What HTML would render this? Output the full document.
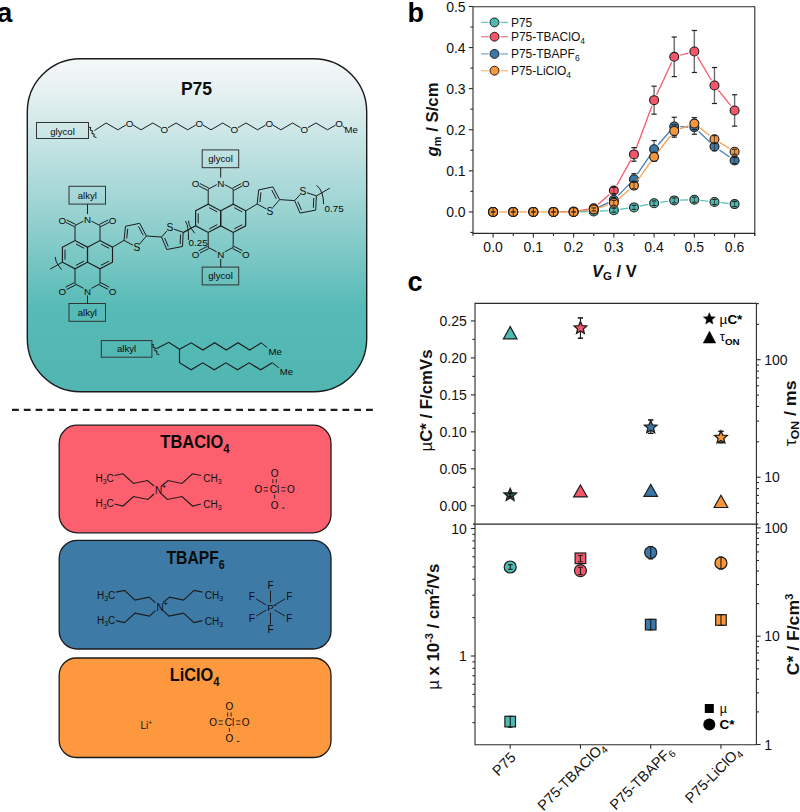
<!DOCTYPE html><html><head><meta charset="utf-8"><style>html,body{margin:0;padding:0;background:#fff;overflow:hidden;}svg{display:block;}</style></head><body><svg width="800" height="812" viewBox="0 0 800 812" font-family='"Liberation Sans", sans-serif'>
<defs>
<linearGradient id="tg" x1="0" y1="0" x2="0" y2="1">
<stop offset="0" stop-color="#f5f8f9"/>
<stop offset="0.1" stop-color="#e6f0f1"/>
<stop offset="0.42" stop-color="#a2d6d5"/>
<stop offset="0.75" stop-color="#56bab6"/>
<stop offset="1" stop-color="#51b6b2"/>
</linearGradient>
</defs>
<rect x="0" y="0" width="800" height="812" fill="#ffffff"/>
<text x="-2.90" y="21.80" font-size="27.5" text-anchor="start" font-weight="bold" fill="#000" >a</text>
<text x="407.50" y="22.30" font-size="27" text-anchor="start" font-weight="bold" fill="#000" >b</text>
<text x="407.50" y="291.30" font-size="27" text-anchor="start" font-weight="bold" fill="#000" >c</text>
<rect x="27.3" y="58.7" width="339.4" height="333" rx="53" ry="53" fill="url(#tg)" stroke="#1a1a1a" stroke-width="1.4"/>
<text x="196.50" y="95.00" font-size="17.5" text-anchor="middle" font-weight="bold" fill="#0d0d0d" >P75</text>
<rect x="36.5" y="122.5" width="52" height="16" fill="none" stroke="#333" stroke-width="1"/>
<text x="62.50" y="134.60" font-size="9.6" text-anchor="middle" font-weight="normal" fill="#0a0a0a" >glycol</text>
<path d="M88.80,127.40 L90.80,127.30 L90.10,130.10 L92.50,130.70 L91.80,133.50 L94.30,134.00 L93.70,136.50 L96.50,137.60" stroke="#1c1c1c" stroke-width="1.0" fill="none" stroke-linejoin="round"/>
<line x1="94.50" y1="130.50" x2="106.15" y2="123.00" stroke="#1c1c1c" stroke-width="1.0" />
<line x1="106.15" y1="123.00" x2="117.80" y2="129.80" stroke="#1c1c1c" stroke-width="1.0" />
<line x1="117.80" y1="129.80" x2="125.82" y2="125.12" stroke="#1c1c1c" stroke-width="1.0" />
<line x1="133.08" y1="125.12" x2="141.10" y2="129.80" stroke="#1c1c1c" stroke-width="1.0" />
<line x1="141.10" y1="129.80" x2="152.75" y2="123.00" stroke="#1c1c1c" stroke-width="1.0" />
<line x1="152.75" y1="123.00" x2="160.77" y2="127.68" stroke="#1c1c1c" stroke-width="1.0" />
<line x1="168.03" y1="127.68" x2="176.05" y2="123.00" stroke="#1c1c1c" stroke-width="1.0" />
<line x1="176.05" y1="123.00" x2="187.70" y2="129.80" stroke="#1c1c1c" stroke-width="1.0" />
<line x1="187.70" y1="129.80" x2="195.72" y2="125.12" stroke="#1c1c1c" stroke-width="1.0" />
<line x1="202.98" y1="125.12" x2="211.00" y2="129.80" stroke="#1c1c1c" stroke-width="1.0" />
<line x1="211.00" y1="129.80" x2="222.65" y2="123.00" stroke="#1c1c1c" stroke-width="1.0" />
<line x1="222.65" y1="123.00" x2="230.67" y2="127.68" stroke="#1c1c1c" stroke-width="1.0" />
<line x1="237.93" y1="127.68" x2="245.95" y2="123.00" stroke="#1c1c1c" stroke-width="1.0" />
<line x1="245.95" y1="123.00" x2="257.60" y2="129.80" stroke="#1c1c1c" stroke-width="1.0" />
<line x1="257.60" y1="129.80" x2="265.62" y2="125.12" stroke="#1c1c1c" stroke-width="1.0" />
<line x1="272.88" y1="125.12" x2="280.90" y2="129.80" stroke="#1c1c1c" stroke-width="1.0" />
<line x1="280.90" y1="129.80" x2="292.55" y2="123.00" stroke="#1c1c1c" stroke-width="1.0" />
<line x1="292.55" y1="123.00" x2="300.57" y2="127.68" stroke="#1c1c1c" stroke-width="1.0" />
<line x1="307.83" y1="127.68" x2="315.85" y2="123.00" stroke="#1c1c1c" stroke-width="1.0" />
<line x1="315.85" y1="123.00" x2="327.50" y2="129.80" stroke="#1c1c1c" stroke-width="1.0" />
<line x1="327.50" y1="129.80" x2="335.52" y2="125.12" stroke="#1c1c1c" stroke-width="1.0" />
<text x="129.45" y="126.53" font-size="9.8" text-anchor="middle" font-weight="normal" fill="#0a0a0a" >O</text>
<text x="164.40" y="133.33" font-size="9.8" text-anchor="middle" font-weight="normal" fill="#0a0a0a" >O</text>
<text x="199.35" y="126.53" font-size="9.8" text-anchor="middle" font-weight="normal" fill="#0a0a0a" >O</text>
<text x="234.30" y="133.33" font-size="9.8" text-anchor="middle" font-weight="normal" fill="#0a0a0a" >O</text>
<text x="269.25" y="126.53" font-size="9.8" text-anchor="middle" font-weight="normal" fill="#0a0a0a" >O</text>
<text x="304.20" y="133.33" font-size="9.8" text-anchor="middle" font-weight="normal" fill="#0a0a0a" >O</text>
<text x="339.15" y="126.53" font-size="9.8" text-anchor="middle" font-weight="normal" fill="#0a0a0a" >O</text>
<line x1="342.30" y1="125.78" x2="345.50" y2="128.60" stroke="#1c1c1c" stroke-width="1.0" />
<text x="344.60" y="132.80" font-size="9.6" text-anchor="start" font-weight="normal" fill="#0a0a0a" >Me</text>
<line x1="83.52" y1="221.10" x2="75.00" y2="225.60" stroke="#1c1c1c" stroke-width="1.0" />
<line x1="91.48" y1="221.10" x2="100.00" y2="225.60" stroke="#1c1c1c" stroke-width="1.0" />
<line x1="75.00" y1="225.60" x2="75.00" y2="240.60" stroke="#1c1c1c" stroke-width="1.0" />
<line x1="100.00" y1="225.60" x2="100.00" y2="240.60" stroke="#1c1c1c" stroke-width="1.0" />
<line x1="74.41" y1="226.76" x2="65.65" y2="222.31" stroke="#1c1c1c" stroke-width="1.0" />
<line x1="75.59" y1="224.44" x2="66.82" y2="219.99" stroke="#1c1c1c" stroke-width="1.0" />
<line x1="99.41" y1="224.44" x2="108.08" y2="220.00" stroke="#1c1c1c" stroke-width="1.0" />
<line x1="100.59" y1="226.76" x2="109.26" y2="222.32" stroke="#1c1c1c" stroke-width="1.0" />
<text x="62.40" y="223.73" font-size="9.8" text-anchor="middle" font-weight="normal" fill="#0a0a0a" >O</text>
<text x="112.50" y="223.73" font-size="9.8" text-anchor="middle" font-weight="normal" fill="#0a0a0a" >O</text>
<text x="87.50" y="223.43" font-size="9.8" text-anchor="middle" font-weight="normal" fill="#0a0a0a" >N</text>
<path d="M62.40,247.20 L75.00,240.60 L87.50,247.20 L87.50,262.20 L75.00,268.80 L62.40,262.20 Z" stroke="#1c1c1c" stroke-width="1.15" fill="none" stroke-linejoin="miter" />
<path d="M87.50,247.20 L100.00,240.60 L112.50,247.20 L112.50,262.20 L100.00,268.80 L87.50,262.20 Z" stroke="#1c1c1c" stroke-width="1.15" fill="none" stroke-linejoin="miter" />
<line x1="65.00" y1="259.70" x2="65.00" y2="249.70" stroke="#1c1c1c" stroke-width="1.0" />
<line x1="76.00" y1="244.07" x2="84.08" y2="248.33" stroke="#1c1c1c" stroke-width="1.0" />
<line x1="84.08" y1="261.07" x2="76.00" y2="265.33" stroke="#1c1c1c" stroke-width="1.0" />
<line x1="101.00" y1="244.07" x2="109.08" y2="248.33" stroke="#1c1c1c" stroke-width="1.0" />
<line x1="109.08" y1="261.07" x2="101.00" y2="265.33" stroke="#1c1c1c" stroke-width="1.0" />
<line x1="75.00" y1="268.80" x2="75.00" y2="283.80" stroke="#1c1c1c" stroke-width="1.0" />
<line x1="100.00" y1="268.80" x2="100.00" y2="283.80" stroke="#1c1c1c" stroke-width="1.0" />
<line x1="83.52" y1="288.30" x2="75.00" y2="283.80" stroke="#1c1c1c" stroke-width="1.0" />
<line x1="91.48" y1="288.30" x2="100.00" y2="283.80" stroke="#1c1c1c" stroke-width="1.0" />
<line x1="75.59" y1="284.96" x2="66.82" y2="289.41" stroke="#1c1c1c" stroke-width="1.0" />
<line x1="74.41" y1="282.64" x2="65.65" y2="287.09" stroke="#1c1c1c" stroke-width="1.0" />
<line x1="100.59" y1="282.64" x2="109.26" y2="287.08" stroke="#1c1c1c" stroke-width="1.0" />
<line x1="99.41" y1="284.96" x2="108.08" y2="289.40" stroke="#1c1c1c" stroke-width="1.0" />
<text x="62.40" y="294.83" font-size="9.8" text-anchor="middle" font-weight="normal" fill="#0a0a0a" >O</text>
<text x="112.50" y="294.83" font-size="9.8" text-anchor="middle" font-weight="normal" fill="#0a0a0a" >O</text>
<text x="87.50" y="294.83" font-size="9.8" text-anchor="middle" font-weight="normal" fill="#0a0a0a" >N</text>
<rect x="69.00" y="186.30" width="36.5" height="17.8" fill="none" stroke="#333" stroke-width="1"/>
<rect x="69.00" y="303.50" width="36.5" height="17.8" fill="none" stroke="#333" stroke-width="1"/>
<text x="87.30" y="198.60" font-size="9.6" text-anchor="middle" font-weight="normal" fill="#0a0a0a" >alkyl</text>
<text x="87.30" y="315.80" font-size="9.6" text-anchor="middle" font-weight="normal" fill="#0a0a0a" >alkyl</text>
<line x1="87.50" y1="204.10" x2="87.50" y2="214.00" stroke="#1c1c1c" stroke-width="1.0" />
<line x1="87.50" y1="295.40" x2="87.50" y2="303.50" stroke="#1c1c1c" stroke-width="1.0" />
<line x1="62.40" y1="262.20" x2="50.00" y2="269.20" stroke="#1c1c1c" stroke-width="1.0" />
<path d="M55.30,257.00 q0.2,4.5 2.5,7.5 L61.50,269.60" stroke="#1c1c1c" stroke-width="1" fill="none"/>
<line x1="112.50" y1="247.20" x2="124.00" y2="240.40" stroke="#1c1c1c" stroke-width="1.0" />
<line x1="124.00" y1="240.40" x2="125.50" y2="226.30" stroke="#1c1c1c" stroke-width="1.0" />
<line x1="125.50" y1="226.30" x2="139.70" y2="223.30" stroke="#1c1c1c" stroke-width="1.0" />
<line x1="139.70" y1="223.30" x2="146.40" y2="236.00" stroke="#1c1c1c" stroke-width="1.0" />
<line x1="146.40" y1="236.00" x2="139.52" y2="244.10" stroke="#1c1c1c" stroke-width="1.0" />
<line x1="133.10" y1="245.31" x2="124.00" y2="240.40" stroke="#1c1c1c" stroke-width="1.0" />
<line x1="126.72" y1="238.48" x2="127.75" y2="228.75" stroke="#1c1c1c" stroke-width="1.0" />
<line x1="138.52" y1="226.41" x2="143.16" y2="235.22" stroke="#1c1c1c" stroke-width="1.0" />
<text x="136.80" y="250.97" font-size="10.2" text-anchor="middle" font-weight="normal" fill="#0a0a0a" >S</text>
<line x1="146.40" y1="236.00" x2="161.50" y2="237.00" stroke="#1c1c1c" stroke-width="1.0" />
<line x1="161.50" y1="237.00" x2="166.99" y2="230.92" stroke="#1c1c1c" stroke-width="1.0" />
<line x1="173.78" y1="229.14" x2="183.20" y2="232.30" stroke="#1c1c1c" stroke-width="1.0" />
<line x1="183.20" y1="232.30" x2="182.50" y2="246.50" stroke="#1c1c1c" stroke-width="1.0" />
<line x1="182.50" y1="246.50" x2="166.80" y2="249.50" stroke="#1c1c1c" stroke-width="1.0" />
<line x1="166.80" y1="249.50" x2="161.50" y2="237.00" stroke="#1c1c1c" stroke-width="1.0" />
<line x1="168.24" y1="246.50" x2="164.66" y2="238.05" stroke="#1c1c1c" stroke-width="1.0" />
<line x1="180.59" y1="234.37" x2="180.11" y2="244.18" stroke="#1c1c1c" stroke-width="1.0" />
<text x="169.80" y="231.47" font-size="10.2" text-anchor="middle" font-weight="normal" fill="#0a0a0a" >S</text>
<line x1="216.72" y1="184.70" x2="208.20" y2="189.20" stroke="#1c1c1c" stroke-width="1.0" />
<line x1="224.68" y1="184.70" x2="233.20" y2="189.20" stroke="#1c1c1c" stroke-width="1.0" />
<line x1="208.20" y1="189.20" x2="208.20" y2="204.20" stroke="#1c1c1c" stroke-width="1.0" />
<line x1="233.20" y1="189.20" x2="233.20" y2="204.20" stroke="#1c1c1c" stroke-width="1.0" />
<line x1="207.61" y1="190.36" x2="198.85" y2="185.91" stroke="#1c1c1c" stroke-width="1.0" />
<line x1="208.79" y1="188.04" x2="200.02" y2="183.59" stroke="#1c1c1c" stroke-width="1.0" />
<line x1="232.61" y1="188.04" x2="241.28" y2="183.60" stroke="#1c1c1c" stroke-width="1.0" />
<line x1="233.79" y1="190.36" x2="242.46" y2="185.92" stroke="#1c1c1c" stroke-width="1.0" />
<text x="195.60" y="187.33" font-size="9.8" text-anchor="middle" font-weight="normal" fill="#0a0a0a" >O</text>
<text x="245.70" y="187.33" font-size="9.8" text-anchor="middle" font-weight="normal" fill="#0a0a0a" >O</text>
<text x="220.70" y="187.03" font-size="9.8" text-anchor="middle" font-weight="normal" fill="#0a0a0a" >N</text>
<path d="M195.60,210.80 L208.20,204.20 L220.70,210.80 L220.70,225.80 L208.20,232.40 L195.60,225.80 Z" stroke="#1c1c1c" stroke-width="1.15" fill="none" stroke-linejoin="miter" />
<path d="M220.70,210.80 L233.20,204.20 L245.70,210.80 L245.70,225.80 L233.20,232.40 L220.70,225.80 Z" stroke="#1c1c1c" stroke-width="1.15" fill="none" stroke-linejoin="miter" />
<line x1="198.20" y1="223.30" x2="198.20" y2="213.30" stroke="#1c1c1c" stroke-width="1.0" />
<line x1="209.20" y1="207.67" x2="217.28" y2="211.93" stroke="#1c1c1c" stroke-width="1.0" />
<line x1="217.28" y1="224.67" x2="209.20" y2="228.93" stroke="#1c1c1c" stroke-width="1.0" />
<line x1="234.20" y1="207.67" x2="242.28" y2="211.93" stroke="#1c1c1c" stroke-width="1.0" />
<line x1="242.28" y1="224.67" x2="234.20" y2="228.93" stroke="#1c1c1c" stroke-width="1.0" />
<line x1="208.20" y1="232.40" x2="208.20" y2="247.40" stroke="#1c1c1c" stroke-width="1.0" />
<line x1="233.20" y1="232.40" x2="233.20" y2="247.40" stroke="#1c1c1c" stroke-width="1.0" />
<line x1="216.72" y1="251.90" x2="208.20" y2="247.40" stroke="#1c1c1c" stroke-width="1.0" />
<line x1="224.68" y1="251.90" x2="233.20" y2="247.40" stroke="#1c1c1c" stroke-width="1.0" />
<line x1="208.79" y1="248.56" x2="200.02" y2="253.01" stroke="#1c1c1c" stroke-width="1.0" />
<line x1="207.61" y1="246.24" x2="198.85" y2="250.69" stroke="#1c1c1c" stroke-width="1.0" />
<line x1="233.79" y1="246.24" x2="242.46" y2="250.68" stroke="#1c1c1c" stroke-width="1.0" />
<line x1="232.61" y1="248.56" x2="241.28" y2="253.00" stroke="#1c1c1c" stroke-width="1.0" />
<text x="195.60" y="258.43" font-size="9.8" text-anchor="middle" font-weight="normal" fill="#0a0a0a" >O</text>
<text x="245.70" y="258.43" font-size="9.8" text-anchor="middle" font-weight="normal" fill="#0a0a0a" >O</text>
<text x="220.70" y="258.43" font-size="9.8" text-anchor="middle" font-weight="normal" fill="#0a0a0a" >N</text>
<rect x="202.20" y="149.90" width="36.5" height="17.8" fill="none" stroke="#333" stroke-width="1"/>
<rect x="202.20" y="267.10" width="36.5" height="17.8" fill="none" stroke="#333" stroke-width="1"/>
<text x="220.50" y="162.20" font-size="9.6" text-anchor="middle" font-weight="normal" fill="#0a0a0a" >glycol</text>
<text x="220.50" y="279.40" font-size="9.6" text-anchor="middle" font-weight="normal" fill="#0a0a0a" >glycol</text>
<line x1="220.70" y1="167.70" x2="220.70" y2="177.60" stroke="#1c1c1c" stroke-width="1.0" />
<line x1="220.70" y1="259.00" x2="220.70" y2="267.10" stroke="#1c1c1c" stroke-width="1.0" />
<line x1="195.60" y1="225.80" x2="183.20" y2="232.80" stroke="#1c1c1c" stroke-width="1.0" />
<path d="M188.50,220.60 q0.2,4.5 2.5,7.5 L194.70,233.20" stroke="#1c1c1c" stroke-width="1" fill="none"/>
<line x1="245.70" y1="210.80" x2="257.20" y2="204.00" stroke="#1c1c1c" stroke-width="1.0" />
<line x1="257.20" y1="204.00" x2="258.70" y2="189.90" stroke="#1c1c1c" stroke-width="1.0" />
<line x1="258.70" y1="189.90" x2="272.90" y2="186.90" stroke="#1c1c1c" stroke-width="1.0" />
<line x1="272.90" y1="186.90" x2="279.60" y2="199.60" stroke="#1c1c1c" stroke-width="1.0" />
<line x1="279.60" y1="199.60" x2="272.72" y2="207.70" stroke="#1c1c1c" stroke-width="1.0" />
<line x1="266.30" y1="208.91" x2="257.20" y2="204.00" stroke="#1c1c1c" stroke-width="1.0" />
<line x1="259.92" y1="202.08" x2="260.95" y2="192.35" stroke="#1c1c1c" stroke-width="1.0" />
<line x1="271.72" y1="190.01" x2="276.36" y2="198.82" stroke="#1c1c1c" stroke-width="1.0" />
<text x="270.00" y="214.57" font-size="10.2" text-anchor="middle" font-weight="normal" fill="#0a0a0a" >S</text>
<line x1="279.60" y1="199.60" x2="294.70" y2="200.60" stroke="#1c1c1c" stroke-width="1.0" />
<line x1="294.70" y1="200.60" x2="300.19" y2="194.52" stroke="#1c1c1c" stroke-width="1.0" />
<line x1="306.98" y1="192.74" x2="316.40" y2="195.90" stroke="#1c1c1c" stroke-width="1.0" />
<line x1="316.40" y1="195.90" x2="315.70" y2="210.10" stroke="#1c1c1c" stroke-width="1.0" />
<line x1="315.70" y1="210.10" x2="300.00" y2="213.10" stroke="#1c1c1c" stroke-width="1.0" />
<line x1="300.00" y1="213.10" x2="294.70" y2="200.60" stroke="#1c1c1c" stroke-width="1.0" />
<line x1="301.44" y1="210.10" x2="297.86" y2="201.65" stroke="#1c1c1c" stroke-width="1.0" />
<line x1="313.79" y1="197.97" x2="313.31" y2="207.78" stroke="#1c1c1c" stroke-width="1.0" />
<text x="303.00" y="195.07" font-size="10.2" text-anchor="middle" font-weight="normal" fill="#0a0a0a" >S</text>
<line x1="183.20" y1="232.30" x2="195.60" y2="225.80" stroke="#1c1c1c" stroke-width="1.0" />
<path d="M185.4,221.0 Q189.0,226.5 188.4,240.0" stroke="#1c1c1c" stroke-width="1" fill="none"/>
<text x="188.60" y="246.30" font-size="9.8" text-anchor="start" font-weight="normal" fill="#0a0a0a" >0.25</text>
<line x1="316.40" y1="195.90" x2="329.80" y2="188.20" stroke="#1c1c1c" stroke-width="1.0" />
<path d="M316.6,185.3 Q323.6,191 323.6,204.2" stroke="#1c1c1c" stroke-width="1" fill="none"/>
<text x="324.60" y="212.40" font-size="9.8" text-anchor="start" font-weight="normal" fill="#0a0a0a" >0.75</text>
<rect x="101.3" y="340.6" width="50.6" height="16.6" fill="none" stroke="#333" stroke-width="1"/>
<text x="126.60" y="352.20" font-size="9.6" text-anchor="middle" font-weight="normal" fill="#0a0a0a" >alkyl</text>
<path d="M151.60,344.60 L153.60,344.50 L152.90,347.30 L155.30,347.90 L154.60,350.70 L157.10,351.20 L156.50,353.70 L159.30,354.80" stroke="#1c1c1c" stroke-width="1.0" fill="none" stroke-linejoin="round"/>
<path d="M156.30,348.80 L168.70,342.30 L179.50,349.20" stroke="#1c1c1c" stroke-width="1.15" fill="none" stroke-linejoin="miter" />
<path d="M179.50,349.20 L191.20,342.80 L202.90,350.00 L214.60,342.80 L226.30,350.00 L238.00,342.80 L249.70,350.00 L261.40,342.80" stroke="#1c1c1c" stroke-width="1.15" fill="none" stroke-linejoin="miter" />
<path d="M179.50,349.20 L179.50,362.80 L191.10,369.80 L202.70,362.80 L214.30,369.80 L225.90,362.80 L237.50,369.80 L249.10,362.80 L260.70,369.80 L272.30,362.80" stroke="#1c1c1c" stroke-width="1.15" fill="none" stroke-linejoin="miter" />
<line x1="261.40" y1="342.80" x2="267.30" y2="347.80" stroke="#1c1c1c" stroke-width="1.0" />
<text x="268.60" y="355.00" font-size="9.6" text-anchor="start" font-weight="normal" fill="#0a0a0a" >Me</text>
<line x1="272.30" y1="362.80" x2="278.80" y2="367.80" stroke="#1c1c1c" stroke-width="1.0" />
<text x="279.80" y="375.40" font-size="9.6" text-anchor="start" font-weight="normal" fill="#0a0a0a" >Me</text>
<line x1="12" y1="409.8" x2="373" y2="409.8" stroke="#1e1e1e" stroke-width="2.2" stroke-dasharray="6.8 5.0"/>
<rect x="59.2" y="425.2" width="271.8" height="107.6" rx="18" fill="#fc5f6d" stroke="#1a1a1a" stroke-width="1.3"/>
<text transform="translate(195,447.5) scale(0.94,1)" text-anchor="middle" font-size="17.5" font-weight="bold" fill="#0a0a0a">TBAClO<tspan font-size="12" dy="5">4</tspan></text>
<path d="M114.50,475.50 L123.00,473.80 L133.50,483.50 L147.50,480.50 L154.00,486.00" stroke="#1c1c1c" stroke-width="1.15" fill="none" stroke-linejoin="miter" />
<path d="M201.00,475.50 L192.50,473.80 L182.00,483.50 L168.00,480.50 L161.50,486.00" stroke="#1c1c1c" stroke-width="1.15" fill="none" stroke-linejoin="miter" />
<path d="M114.50,504.00 L123.00,506.00 L133.50,496.50 L148.00,499.50 L154.00,494.00" stroke="#1c1c1c" stroke-width="1.15" fill="none" stroke-linejoin="miter" />
<path d="M201.00,504.00 L192.50,506.00 L182.00,496.50 L167.50,499.50 L161.50,494.00" stroke="#1c1c1c" stroke-width="1.15" fill="none" stroke-linejoin="miter" />
<text x="158.50" y="494.10" font-size="10" text-anchor="middle" font-weight="normal" fill="#0a0a0a" >N</text>
<text x="164.10" y="489.10" font-size="8" text-anchor="middle" font-weight="normal" fill="#000" >+</text>
<text x="95.40" y="481.90" font-size="10" fill="#111">H<tspan font-size="7" dy="2">3</tspan><tspan dy="-2">C</tspan></text>
<text x="203.30" y="482.40" font-size="10" fill="#111">CH<tspan font-size="7" dy="2">3</tspan></text>
<text x="95.40" y="507.40" font-size="10" fill="#111">H<tspan font-size="7" dy="2">3</tspan><tspan dy="-2">C</tspan></text>
<text x="203.30" y="507.90" font-size="10" fill="#111">CH<tspan font-size="7" dy="2">3</tspan></text>
<text x="274.60" y="492.90" font-size="10" text-anchor="middle" font-weight="normal" fill="#0a0a0a" >Cl</text>
<text x="274.60" y="476.70" font-size="10" text-anchor="middle" font-weight="normal" fill="#0a0a0a" >O</text>
<text x="274.60" y="508.90" font-size="10" text-anchor="middle" font-weight="normal" fill="#0a0a0a" >O</text>
<text x="258.30" y="492.90" font-size="10" text-anchor="middle" font-weight="normal" fill="#0a0a0a" >O</text>
<text x="290.80" y="492.90" font-size="10" text-anchor="middle" font-weight="normal" fill="#0a0a0a" >O</text>
<line x1="272.90" y1="479.10" x2="272.90" y2="483.20" stroke="#1c1c1c" stroke-width="0.9" />
<line x1="263.80" y1="487.60" x2="268.00" y2="487.60" stroke="#1c1c1c" stroke-width="0.9" />
<line x1="281.40" y1="487.60" x2="285.60" y2="487.60" stroke="#1c1c1c" stroke-width="0.9" />
<line x1="276.30" y1="479.10" x2="276.30" y2="483.20" stroke="#1c1c1c" stroke-width="0.9" />
<line x1="263.80" y1="491.00" x2="268.00" y2="491.00" stroke="#1c1c1c" stroke-width="0.9" />
<line x1="281.40" y1="491.00" x2="285.60" y2="491.00" stroke="#1c1c1c" stroke-width="0.9" />
<line x1="274.60" y1="494.60" x2="274.60" y2="498.50" stroke="#1c1c1c" stroke-width="0.9" />
<line x1="282.20" y1="508.10" x2="284.60" y2="508.10" stroke="#1c1c1c" stroke-width="1.0" />
<rect x="59.2" y="540.3" width="271.8" height="108.7" rx="18" fill="#3e7aa6" stroke="#1a1a1a" stroke-width="1.3"/>
<text transform="translate(195.6,564) scale(0.895,1)" text-anchor="middle" font-size="17.5" font-weight="bold" fill="#0a0a0a">TBAPF<tspan font-size="12" dy="5">6</tspan></text>
<path d="M116.00,592.10 L124.50,590.40 L135.00,600.10 L149.00,597.10 L155.50,602.60" stroke="#1c1c1c" stroke-width="1.15" fill="none" stroke-linejoin="miter" />
<path d="M202.50,592.10 L194.00,590.40 L183.50,600.10 L169.50,597.10 L163.00,602.60" stroke="#1c1c1c" stroke-width="1.15" fill="none" stroke-linejoin="miter" />
<path d="M116.00,620.60 L124.50,622.60 L135.00,613.10 L149.50,616.10 L155.50,610.60" stroke="#1c1c1c" stroke-width="1.15" fill="none" stroke-linejoin="miter" />
<path d="M202.50,620.60 L194.00,622.60 L183.50,613.10 L169.00,616.10 L163.00,610.60" stroke="#1c1c1c" stroke-width="1.15" fill="none" stroke-linejoin="miter" />
<text x="160.00" y="610.70" font-size="10" text-anchor="middle" font-weight="normal" fill="#0a0a0a" >N</text>
<text x="165.60" y="605.70" font-size="8" text-anchor="middle" font-weight="normal" fill="#000" >+</text>
<text x="96.90" y="598.50" font-size="10" fill="#111">H<tspan font-size="7" dy="2">3</tspan><tspan dy="-2">C</tspan></text>
<text x="204.80" y="599.00" font-size="10" fill="#111">CH<tspan font-size="7" dy="2">3</tspan></text>
<text x="96.90" y="624.00" font-size="10" fill="#111">H<tspan font-size="7" dy="2">3</tspan><tspan dy="-2">C</tspan></text>
<text x="204.80" y="624.50" font-size="10" fill="#111">CH<tspan font-size="7" dy="2">3</tspan></text>
<text x="270.40" y="611.06" font-size="9.6" text-anchor="middle" font-weight="normal" fill="#0a0a0a" >P</text>
<line x1="273.60" y1="605.30" x2="276.40" y2="605.30" stroke="#1c1c1c" stroke-width="0.9" />
<text x="270.60" y="589.20" font-size="10" text-anchor="middle" font-weight="normal" fill="#0a0a0a" >F</text>
<line x1="270.45" y1="602.60" x2="270.55" y2="590.60" stroke="#1c1c1c" stroke-width="1.0" />
<text x="270.60" y="633.10" font-size="10" text-anchor="middle" font-weight="normal" fill="#0a0a0a" >F</text>
<line x1="270.45" y1="612.60" x2="270.55" y2="624.50" stroke="#1c1c1c" stroke-width="1.0" />
<text x="251.80" y="599.90" font-size="10" text-anchor="middle" font-weight="normal" fill="#0a0a0a" >F</text>
<line x1="266.13" y1="605.00" x2="256.07" y2="598.90" stroke="#1c1c1c" stroke-width="1.0" />
<text x="289.40" y="599.90" font-size="10" text-anchor="middle" font-weight="normal" fill="#0a0a0a" >F</text>
<line x1="274.70" y1="605.04" x2="285.10" y2="598.86" stroke="#1c1c1c" stroke-width="1.0" />
<text x="251.80" y="622.20" font-size="10" text-anchor="middle" font-weight="normal" fill="#0a0a0a" >F</text>
<line x1="266.10" y1="610.15" x2="256.10" y2="616.05" stroke="#1c1c1c" stroke-width="1.0" />
<text x="289.40" y="622.20" font-size="10" text-anchor="middle" font-weight="normal" fill="#0a0a0a" >F</text>
<line x1="274.73" y1="610.11" x2="285.07" y2="616.09" stroke="#1c1c1c" stroke-width="1.0" />
<rect x="59.2" y="658.0" width="271.8" height="99.5" rx="17" fill="#fe983f" stroke="#1a1a1a" stroke-width="1.3"/>
<text transform="translate(194.6,680.8) scale(0.935,1)" text-anchor="middle" font-size="17.5" font-weight="bold" fill="#0a0a0a">LiClO<tspan font-size="12" dy="5">4</tspan></text>
<text x="140.4" y="729.2" font-size="10" fill="#111">Li<tspan font-size="6.5" dy="-4">+</tspan></text>
<text x="229.40" y="726.20" font-size="10" text-anchor="middle" font-weight="normal" fill="#0a0a0a" >Cl</text>
<text x="229.40" y="710.00" font-size="10" text-anchor="middle" font-weight="normal" fill="#0a0a0a" >O</text>
<text x="229.40" y="742.20" font-size="10" text-anchor="middle" font-weight="normal" fill="#0a0a0a" >O</text>
<text x="213.10" y="726.20" font-size="10" text-anchor="middle" font-weight="normal" fill="#0a0a0a" >O</text>
<text x="245.60" y="726.20" font-size="10" text-anchor="middle" font-weight="normal" fill="#0a0a0a" >O</text>
<line x1="227.70" y1="712.40" x2="227.70" y2="716.50" stroke="#1c1c1c" stroke-width="0.9" />
<line x1="218.60" y1="720.90" x2="222.80" y2="720.90" stroke="#1c1c1c" stroke-width="0.9" />
<line x1="236.20" y1="720.90" x2="240.40" y2="720.90" stroke="#1c1c1c" stroke-width="0.9" />
<line x1="231.10" y1="712.40" x2="231.10" y2="716.50" stroke="#1c1c1c" stroke-width="0.9" />
<line x1="218.60" y1="724.30" x2="222.80" y2="724.30" stroke="#1c1c1c" stroke-width="0.9" />
<line x1="236.20" y1="724.30" x2="240.40" y2="724.30" stroke="#1c1c1c" stroke-width="0.9" />
<line x1="229.40" y1="727.90" x2="229.40" y2="731.80" stroke="#1c1c1c" stroke-width="0.9" />
<line x1="237.00" y1="741.40" x2="239.40" y2="741.40" stroke="#1c1c1c" stroke-width="1.0" />
<path d="M473.0,6.7 H754.8 V233.4 H473.0 Z" fill="none" stroke="#2b2b2b" stroke-width="1.1"/>
<line x1="468.80" y1="211.90" x2="473.00" y2="211.90" stroke="#2b2b2b" stroke-width="1.1" />
<text x="465.60" y="216.90" font-size="14" text-anchor="end" font-weight="normal" fill="#111" >0.0</text>
<line x1="468.80" y1="170.82" x2="473.00" y2="170.82" stroke="#2b2b2b" stroke-width="1.1" />
<text x="465.60" y="175.82" font-size="14" text-anchor="end" font-weight="normal" fill="#111" >0.1</text>
<line x1="468.80" y1="129.74" x2="473.00" y2="129.74" stroke="#2b2b2b" stroke-width="1.1" />
<text x="465.60" y="134.74" font-size="14" text-anchor="end" font-weight="normal" fill="#111" >0.2</text>
<line x1="468.80" y1="88.66" x2="473.00" y2="88.66" stroke="#2b2b2b" stroke-width="1.1" />
<text x="465.60" y="93.66" font-size="14" text-anchor="end" font-weight="normal" fill="#111" >0.3</text>
<line x1="468.80" y1="47.58" x2="473.00" y2="47.58" stroke="#2b2b2b" stroke-width="1.1" />
<text x="465.60" y="52.58" font-size="14" text-anchor="end" font-weight="normal" fill="#111" >0.4</text>
<line x1="468.80" y1="6.50" x2="473.00" y2="6.50" stroke="#2b2b2b" stroke-width="1.1" />
<text x="465.60" y="11.50" font-size="14" text-anchor="end" font-weight="normal" fill="#111" >0.5</text>
<line x1="470.40" y1="191.36" x2="473.00" y2="191.36" stroke="#2b2b2b" stroke-width="1.1" />
<line x1="470.40" y1="150.28" x2="473.00" y2="150.28" stroke="#2b2b2b" stroke-width="1.1" />
<line x1="470.40" y1="109.20" x2="473.00" y2="109.20" stroke="#2b2b2b" stroke-width="1.1" />
<line x1="470.40" y1="68.12" x2="473.00" y2="68.12" stroke="#2b2b2b" stroke-width="1.1" />
<line x1="470.40" y1="27.04" x2="473.00" y2="27.04" stroke="#2b2b2b" stroke-width="1.1" />
<line x1="470.40" y1="232.44" x2="473.00" y2="232.44" stroke="#2b2b2b" stroke-width="1.1" />
<line x1="472.98" y1="233.40" x2="472.98" y2="235.80" stroke="#2b2b2b" stroke-width="1.1" />
<line x1="754.73" y1="233.40" x2="754.73" y2="235.80" stroke="#2b2b2b" stroke-width="1.1" />
<line x1="493.10" y1="233.40" x2="493.10" y2="237.40" stroke="#2b2b2b" stroke-width="1.1" />
<text x="493.10" y="252.00" font-size="14" text-anchor="middle" font-weight="normal" fill="#111" >0.0</text>
<line x1="533.35" y1="233.40" x2="533.35" y2="237.40" stroke="#2b2b2b" stroke-width="1.1" />
<text x="533.35" y="252.00" font-size="14" text-anchor="middle" font-weight="normal" fill="#111" >0.1</text>
<line x1="573.60" y1="233.40" x2="573.60" y2="237.40" stroke="#2b2b2b" stroke-width="1.1" />
<text x="573.60" y="252.00" font-size="14" text-anchor="middle" font-weight="normal" fill="#111" >0.2</text>
<line x1="613.85" y1="233.40" x2="613.85" y2="237.40" stroke="#2b2b2b" stroke-width="1.1" />
<text x="613.85" y="252.00" font-size="14" text-anchor="middle" font-weight="normal" fill="#111" >0.3</text>
<line x1="654.10" y1="233.40" x2="654.10" y2="237.40" stroke="#2b2b2b" stroke-width="1.1" />
<text x="654.10" y="252.00" font-size="14" text-anchor="middle" font-weight="normal" fill="#111" >0.4</text>
<line x1="694.35" y1="233.40" x2="694.35" y2="237.40" stroke="#2b2b2b" stroke-width="1.1" />
<text x="694.35" y="252.00" font-size="14" text-anchor="middle" font-weight="normal" fill="#111" >0.5</text>
<line x1="734.60" y1="233.40" x2="734.60" y2="237.40" stroke="#2b2b2b" stroke-width="1.1" />
<text x="734.60" y="252.00" font-size="14" text-anchor="middle" font-weight="normal" fill="#111" >0.6</text>
<line x1="513.23" y1="233.40" x2="513.23" y2="236.00" stroke="#2b2b2b" stroke-width="1.1" />
<line x1="553.48" y1="233.40" x2="553.48" y2="236.00" stroke="#2b2b2b" stroke-width="1.1" />
<line x1="593.73" y1="233.40" x2="593.73" y2="236.00" stroke="#2b2b2b" stroke-width="1.1" />
<line x1="633.98" y1="233.40" x2="633.98" y2="236.00" stroke="#2b2b2b" stroke-width="1.1" />
<line x1="674.23" y1="233.40" x2="674.23" y2="236.00" stroke="#2b2b2b" stroke-width="1.1" />
<line x1="714.48" y1="233.40" x2="714.48" y2="236.00" stroke="#2b2b2b" stroke-width="1.1" />
<line x1="754.73" y1="233.40" x2="754.73" y2="236.00" stroke="#2b2b2b" stroke-width="1.1" />
<text transform="translate(437.8,119.5) rotate(-90)" text-anchor="middle" font-size="16.8" font-weight="bold" fill="#111"><tspan font-style="italic">g</tspan><tspan font-size="11" dy="3">m</tspan><tspan dy="-3"> / S/cm</tspan></text>
<text x="592.0" y="276.8" font-size="16.5" font-weight="bold" fill="#111"><tspan font-style="italic">V</tspan><tspan font-size="11.5" dy="3">G</tspan><tspan dy="-3"> / V</tspan></text>
<line x1="579.65" y1="211.78" x2="587.68" y2="211.61" stroke="#52c1b8" stroke-width="1.25" />
<line x1="599.76" y1="211.12" x2="607.81" y2="210.63" stroke="#52c1b8" stroke-width="1.25" />
<line x1="619.84" y1="209.40" x2="627.99" y2="208.24" stroke="#52c1b8" stroke-width="1.25" />
<line x1="639.90" y1="206.17" x2="648.17" y2="204.48" stroke="#52c1b8" stroke-width="1.25" />
<line x1="660.09" y1="202.42" x2="668.24" y2="201.25" stroke="#52c1b8" stroke-width="1.25" />
<line x1="680.27" y1="200.19" x2="688.30" y2="199.91" stroke="#52c1b8" stroke-width="1.25" />
<line x1="700.36" y1="200.36" x2="708.46" y2="201.25" stroke="#52c1b8" stroke-width="1.25" />
<line x1="720.49" y1="202.57" x2="728.59" y2="203.44" stroke="#52c1b8" stroke-width="1.25" />
<circle cx="493.10" cy="211.90" r="4.45" fill="#4dbab1" stroke="#1c1c1c" stroke-width="1.1"/>
<line x1="493.10" y1="208.05" x2="493.10" y2="215.75" stroke="#1c1c1c" stroke-width="0.9" />
<line x1="490.80" y1="211.90" x2="495.40" y2="211.90" stroke="#1c1c1c" stroke-width="1.3" />
<circle cx="513.23" cy="211.90" r="4.45" fill="#4dbab1" stroke="#1c1c1c" stroke-width="1.1"/>
<line x1="513.23" y1="208.05" x2="513.23" y2="215.75" stroke="#1c1c1c" stroke-width="0.9" />
<line x1="510.93" y1="211.90" x2="515.52" y2="211.90" stroke="#1c1c1c" stroke-width="1.3" />
<circle cx="533.35" cy="211.90" r="4.45" fill="#4dbab1" stroke="#1c1c1c" stroke-width="1.1"/>
<line x1="533.35" y1="208.05" x2="533.35" y2="215.75" stroke="#1c1c1c" stroke-width="0.9" />
<line x1="531.05" y1="211.90" x2="535.65" y2="211.90" stroke="#1c1c1c" stroke-width="1.3" />
<circle cx="553.48" cy="211.90" r="4.45" fill="#4dbab1" stroke="#1c1c1c" stroke-width="1.1"/>
<line x1="553.48" y1="208.05" x2="553.48" y2="215.75" stroke="#1c1c1c" stroke-width="0.9" />
<line x1="551.18" y1="211.90" x2="555.77" y2="211.90" stroke="#1c1c1c" stroke-width="1.3" />
<circle cx="573.60" cy="211.90" r="4.45" fill="#4dbab1" stroke="#1c1c1c" stroke-width="1.1"/>
<line x1="573.60" y1="208.05" x2="573.60" y2="215.75" stroke="#1c1c1c" stroke-width="0.9" />
<line x1="571.30" y1="211.90" x2="575.90" y2="211.90" stroke="#1c1c1c" stroke-width="1.3" />
<circle cx="593.73" cy="211.49" r="4.45" fill="#4dbab1" stroke="#1c1c1c" stroke-width="1.1"/>
<line x1="593.73" y1="209.99" x2="593.73" y2="212.99" stroke="#333" stroke-width="0.8" />
<line x1="591.43" y1="209.99" x2="596.02" y2="209.99" stroke="#1c1c1c" stroke-width="1.0" />
<line x1="591.43" y1="212.99" x2="596.02" y2="212.99" stroke="#1c1c1c" stroke-width="1.0" />
<circle cx="613.85" cy="210.26" r="4.45" fill="#4dbab1" stroke="#1c1c1c" stroke-width="1.1"/>
<line x1="613.85" y1="208.26" x2="613.85" y2="212.26" stroke="#333" stroke-width="0.8" />
<line x1="611.55" y1="208.26" x2="616.15" y2="208.26" stroke="#1c1c1c" stroke-width="1.0" />
<line x1="611.55" y1="212.26" x2="616.15" y2="212.26" stroke="#1c1c1c" stroke-width="1.0" />
<circle cx="633.98" cy="207.38" r="4.45" fill="#4dbab1" stroke="#1c1c1c" stroke-width="1.1"/>
<line x1="633.98" y1="205.38" x2="633.98" y2="209.38" stroke="#333" stroke-width="0.8" />
<line x1="631.68" y1="205.38" x2="636.27" y2="205.38" stroke="#1c1c1c" stroke-width="1.0" />
<line x1="631.68" y1="209.38" x2="636.27" y2="209.38" stroke="#1c1c1c" stroke-width="1.0" />
<circle cx="654.10" cy="203.27" r="4.45" fill="#4dbab1" stroke="#1c1c1c" stroke-width="1.1"/>
<line x1="654.10" y1="200.97" x2="654.10" y2="205.57" stroke="#333" stroke-width="0.8" />
<line x1="651.80" y1="200.97" x2="656.40" y2="200.97" stroke="#1c1c1c" stroke-width="1.0" />
<line x1="651.80" y1="205.57" x2="656.40" y2="205.57" stroke="#1c1c1c" stroke-width="1.0" />
<circle cx="674.23" cy="200.40" r="4.45" fill="#4dbab1" stroke="#1c1c1c" stroke-width="1.1"/>
<line x1="674.23" y1="197.90" x2="674.23" y2="202.90" stroke="#333" stroke-width="0.8" />
<line x1="671.93" y1="197.90" x2="676.52" y2="197.90" stroke="#1c1c1c" stroke-width="1.0" />
<line x1="671.93" y1="202.90" x2="676.52" y2="202.90" stroke="#1c1c1c" stroke-width="1.0" />
<circle cx="694.35" cy="199.70" r="4.45" fill="#4dbab1" stroke="#1c1c1c" stroke-width="1.1"/>
<line x1="694.35" y1="197.20" x2="694.35" y2="202.20" stroke="#333" stroke-width="0.8" />
<line x1="692.05" y1="197.20" x2="696.65" y2="197.20" stroke="#1c1c1c" stroke-width="1.0" />
<line x1="692.05" y1="202.20" x2="696.65" y2="202.20" stroke="#1c1c1c" stroke-width="1.0" />
<circle cx="714.48" cy="201.92" r="4.45" fill="#4dbab1" stroke="#1c1c1c" stroke-width="1.1"/>
<line x1="714.48" y1="199.42" x2="714.48" y2="204.42" stroke="#333" stroke-width="0.8" />
<line x1="712.18" y1="199.42" x2="716.77" y2="199.42" stroke="#1c1c1c" stroke-width="1.0" />
<line x1="712.18" y1="204.42" x2="716.77" y2="204.42" stroke="#1c1c1c" stroke-width="1.0" />
<circle cx="734.60" cy="204.09" r="4.45" fill="#4dbab1" stroke="#1c1c1c" stroke-width="1.1"/>
<line x1="734.60" y1="201.59" x2="734.60" y2="206.59" stroke="#333" stroke-width="0.8" />
<line x1="732.30" y1="201.59" x2="736.90" y2="201.59" stroke="#1c1c1c" stroke-width="1.0" />
<line x1="732.30" y1="206.59" x2="736.90" y2="206.59" stroke="#1c1c1c" stroke-width="1.0" />
<line x1="559.52" y1="211.78" x2="567.55" y2="211.61" stroke="#fb5566" stroke-width="1.25" />
<line x1="579.57" y1="210.51" x2="587.75" y2="209.18" stroke="#fb5566" stroke-width="1.25" />
<line x1="598.27" y1="204.21" x2="609.30" y2="194.53" stroke="#fb5566" stroke-width="1.25" />
<line x1="616.79" y1="185.25" x2="631.03" y2="159.67" stroke="#fb5566" stroke-width="1.25" />
<line x1="636.08" y1="148.72" x2="651.99" y2="105.83" stroke="#fb5566" stroke-width="1.25" />
<line x1="656.65" y1="94.68" x2="671.68" y2="62.31" stroke="#fb5566" stroke-width="1.25" />
<line x1="680.07" y1="55.27" x2="688.50" y2="53.03" stroke="#fb5566" stroke-width="1.25" />
<line x1="697.43" y1="56.69" x2="711.39" y2="80.29" stroke="#fb5566" stroke-width="1.25" />
<line x1="718.27" y1="90.20" x2="730.80" y2="105.72" stroke="#fb5566" stroke-width="1.25" />
<line x1="633.98" y1="147.59" x2="633.98" y2="161.19" stroke="#6b6b6b" stroke-width="1.4" />
<line x1="631.38" y1="147.59" x2="636.58" y2="147.59" stroke="#222" stroke-width="1.2" />
<line x1="631.38" y1="161.19" x2="636.58" y2="161.19" stroke="#222" stroke-width="1.2" />
<line x1="654.10" y1="86.16" x2="654.10" y2="114.16" stroke="#6b6b6b" stroke-width="1.4" />
<line x1="651.50" y1="86.16" x2="656.70" y2="86.16" stroke="#222" stroke-width="1.2" />
<line x1="651.50" y1="114.16" x2="656.70" y2="114.16" stroke="#222" stroke-width="1.2" />
<line x1="674.23" y1="37.02" x2="674.23" y2="76.62" stroke="#6b6b6b" stroke-width="1.4" />
<line x1="671.62" y1="37.02" x2="676.83" y2="37.02" stroke="#222" stroke-width="1.2" />
<line x1="671.62" y1="76.62" x2="676.83" y2="76.62" stroke="#222" stroke-width="1.2" />
<line x1="694.35" y1="30.48" x2="694.35" y2="72.48" stroke="#6b6b6b" stroke-width="1.4" />
<line x1="691.75" y1="30.48" x2="696.95" y2="30.48" stroke="#222" stroke-width="1.2" />
<line x1="691.75" y1="72.48" x2="696.95" y2="72.48" stroke="#222" stroke-width="1.2" />
<line x1="714.48" y1="67.50" x2="714.48" y2="103.50" stroke="#6b6b6b" stroke-width="1.4" />
<line x1="711.88" y1="67.50" x2="717.08" y2="67.50" stroke="#222" stroke-width="1.2" />
<line x1="711.88" y1="103.50" x2="717.08" y2="103.50" stroke="#222" stroke-width="1.2" />
<line x1="734.60" y1="94.73" x2="734.60" y2="126.13" stroke="#6b6b6b" stroke-width="1.4" />
<line x1="732.00" y1="94.73" x2="737.20" y2="94.73" stroke="#222" stroke-width="1.2" />
<line x1="732.00" y1="126.13" x2="737.20" y2="126.13" stroke="#222" stroke-width="1.2" />
<circle cx="493.10" cy="211.90" r="4.45" fill="#f6566a" stroke="#1c1c1c" stroke-width="1.1"/>
<line x1="493.10" y1="208.05" x2="493.10" y2="215.75" stroke="#1c1c1c" stroke-width="0.9" />
<line x1="490.80" y1="211.90" x2="495.40" y2="211.90" stroke="#1c1c1c" stroke-width="1.3" />
<circle cx="513.23" cy="211.90" r="4.45" fill="#f6566a" stroke="#1c1c1c" stroke-width="1.1"/>
<line x1="513.23" y1="208.05" x2="513.23" y2="215.75" stroke="#1c1c1c" stroke-width="0.9" />
<line x1="510.93" y1="211.90" x2="515.52" y2="211.90" stroke="#1c1c1c" stroke-width="1.3" />
<circle cx="533.35" cy="211.90" r="4.45" fill="#f6566a" stroke="#1c1c1c" stroke-width="1.1"/>
<line x1="533.35" y1="208.05" x2="533.35" y2="215.75" stroke="#1c1c1c" stroke-width="0.9" />
<line x1="531.05" y1="211.90" x2="535.65" y2="211.90" stroke="#1c1c1c" stroke-width="1.3" />
<circle cx="553.48" cy="211.90" r="4.45" fill="#f6566a" stroke="#1c1c1c" stroke-width="1.1"/>
<line x1="553.48" y1="208.05" x2="553.48" y2="215.75" stroke="#1c1c1c" stroke-width="0.9" />
<line x1="551.18" y1="211.90" x2="555.77" y2="211.90" stroke="#1c1c1c" stroke-width="1.3" />
<circle cx="573.60" cy="211.49" r="4.45" fill="#f6566a" stroke="#1c1c1c" stroke-width="1.1"/>
<line x1="573.60" y1="207.64" x2="573.60" y2="215.34" stroke="#1c1c1c" stroke-width="0.9" />
<line x1="571.30" y1="211.49" x2="575.90" y2="211.49" stroke="#1c1c1c" stroke-width="1.3" />
<circle cx="593.73" cy="208.20" r="4.45" fill="#f6566a" stroke="#1c1c1c" stroke-width="1.1"/>
<line x1="593.73" y1="206.70" x2="593.73" y2="209.70" stroke="#333" stroke-width="0.8" />
<line x1="591.43" y1="206.70" x2="596.02" y2="206.70" stroke="#1c1c1c" stroke-width="1.0" />
<line x1="591.43" y1="209.70" x2="596.02" y2="209.70" stroke="#1c1c1c" stroke-width="1.0" />
<circle cx="613.85" cy="190.54" r="4.45" fill="#f6566a" stroke="#1c1c1c" stroke-width="1.1"/>
<line x1="613.85" y1="187.54" x2="613.85" y2="193.54" stroke="#333" stroke-width="0.8" />
<line x1="611.55" y1="187.54" x2="616.15" y2="187.54" stroke="#1c1c1c" stroke-width="1.0" />
<line x1="611.55" y1="193.54" x2="616.15" y2="193.54" stroke="#1c1c1c" stroke-width="1.0" />
<circle cx="633.98" cy="154.39" r="4.45" fill="#f6566a" stroke="#1c1c1c" stroke-width="1.1"/>
<circle cx="654.10" cy="100.16" r="4.45" fill="#f6566a" stroke="#1c1c1c" stroke-width="1.1"/>
<circle cx="674.23" cy="56.82" r="4.45" fill="#f6566a" stroke="#1c1c1c" stroke-width="1.1"/>
<circle cx="694.35" cy="51.48" r="4.45" fill="#f6566a" stroke="#1c1c1c" stroke-width="1.1"/>
<circle cx="714.48" cy="85.50" r="4.45" fill="#f6566a" stroke="#1c1c1c" stroke-width="1.1"/>
<circle cx="734.60" cy="110.43" r="4.45" fill="#f6566a" stroke="#1c1c1c" stroke-width="1.1"/>
<line x1="579.61" y1="211.16" x2="587.72" y2="210.17" stroke="#3f7fb3" stroke-width="1.25" />
<line x1="599.20" y1="206.86" x2="608.37" y2="202.56" stroke="#3f7fb3" stroke-width="1.25" />
<line x1="618.06" y1="195.64" x2="629.76" y2="183.58" stroke="#3f7fb3" stroke-width="1.25" />
<line x1="637.35" y1="174.22" x2="650.73" y2="154.28" stroke="#3f7fb3" stroke-width="1.25" />
<line x1="658.10" y1="144.72" x2="670.22" y2="130.99" stroke="#3f7fb3" stroke-width="1.25" />
<line x1="680.27" y1="126.70" x2="688.31" y2="127.03" stroke="#3f7fb3" stroke-width="1.25" />
<line x1="698.72" y1="131.46" x2="710.11" y2="142.39" stroke="#3f7fb3" stroke-width="1.25" />
<line x1="719.45" y1="150.03" x2="729.63" y2="157.10" stroke="#3f7fb3" stroke-width="1.25" />
<line x1="633.98" y1="173.74" x2="633.98" y2="184.74" stroke="#6b6b6b" stroke-width="1.4" />
<line x1="631.38" y1="173.74" x2="636.58" y2="173.74" stroke="#222" stroke-width="1.2" />
<line x1="631.38" y1="184.74" x2="636.58" y2="184.74" stroke="#222" stroke-width="1.2" />
<line x1="654.10" y1="140.55" x2="654.10" y2="157.95" stroke="#6b6b6b" stroke-width="1.4" />
<line x1="651.50" y1="140.55" x2="656.70" y2="140.55" stroke="#222" stroke-width="1.2" />
<line x1="651.50" y1="157.95" x2="656.70" y2="157.95" stroke="#222" stroke-width="1.2" />
<line x1="674.23" y1="117.25" x2="674.23" y2="135.65" stroke="#6b6b6b" stroke-width="1.4" />
<line x1="671.62" y1="117.25" x2="676.83" y2="117.25" stroke="#222" stroke-width="1.2" />
<line x1="671.62" y1="135.65" x2="676.83" y2="135.65" stroke="#222" stroke-width="1.2" />
<line x1="694.35" y1="120.28" x2="694.35" y2="134.28" stroke="#6b6b6b" stroke-width="1.4" />
<line x1="691.75" y1="120.28" x2="696.95" y2="120.28" stroke="#222" stroke-width="1.2" />
<line x1="691.75" y1="134.28" x2="696.95" y2="134.28" stroke="#222" stroke-width="1.2" />
<circle cx="493.10" cy="211.90" r="4.45" fill="#3a78a9" stroke="#1c1c1c" stroke-width="1.1"/>
<line x1="493.10" y1="208.05" x2="493.10" y2="215.75" stroke="#1c1c1c" stroke-width="0.9" />
<line x1="490.80" y1="211.90" x2="495.40" y2="211.90" stroke="#1c1c1c" stroke-width="1.3" />
<circle cx="513.23" cy="211.90" r="4.45" fill="#3a78a9" stroke="#1c1c1c" stroke-width="1.1"/>
<line x1="513.23" y1="208.05" x2="513.23" y2="215.75" stroke="#1c1c1c" stroke-width="0.9" />
<line x1="510.93" y1="211.90" x2="515.52" y2="211.90" stroke="#1c1c1c" stroke-width="1.3" />
<circle cx="533.35" cy="211.90" r="4.45" fill="#3a78a9" stroke="#1c1c1c" stroke-width="1.1"/>
<line x1="533.35" y1="208.05" x2="533.35" y2="215.75" stroke="#1c1c1c" stroke-width="0.9" />
<line x1="531.05" y1="211.90" x2="535.65" y2="211.90" stroke="#1c1c1c" stroke-width="1.3" />
<circle cx="553.48" cy="211.90" r="4.45" fill="#3a78a9" stroke="#1c1c1c" stroke-width="1.1"/>
<line x1="553.48" y1="208.05" x2="553.48" y2="215.75" stroke="#1c1c1c" stroke-width="0.9" />
<line x1="551.18" y1="211.90" x2="555.77" y2="211.90" stroke="#1c1c1c" stroke-width="1.3" />
<circle cx="573.60" cy="211.90" r="4.45" fill="#3a78a9" stroke="#1c1c1c" stroke-width="1.1"/>
<line x1="573.60" y1="208.05" x2="573.60" y2="215.75" stroke="#1c1c1c" stroke-width="0.9" />
<line x1="571.30" y1="211.90" x2="575.90" y2="211.90" stroke="#1c1c1c" stroke-width="1.3" />
<circle cx="593.73" cy="209.44" r="4.45" fill="#3a78a9" stroke="#1c1c1c" stroke-width="1.1"/>
<line x1="593.73" y1="207.94" x2="593.73" y2="210.94" stroke="#333" stroke-width="0.8" />
<line x1="591.43" y1="207.94" x2="596.02" y2="207.94" stroke="#1c1c1c" stroke-width="1.0" />
<line x1="591.43" y1="210.94" x2="596.02" y2="210.94" stroke="#1c1c1c" stroke-width="1.0" />
<circle cx="613.85" cy="199.99" r="4.45" fill="#3a78a9" stroke="#1c1c1c" stroke-width="1.1"/>
<line x1="613.85" y1="197.49" x2="613.85" y2="202.49" stroke="#333" stroke-width="0.8" />
<line x1="611.55" y1="197.49" x2="616.15" y2="197.49" stroke="#1c1c1c" stroke-width="1.0" />
<line x1="611.55" y1="202.49" x2="616.15" y2="202.49" stroke="#1c1c1c" stroke-width="1.0" />
<circle cx="633.98" cy="179.24" r="4.45" fill="#3a78a9" stroke="#1c1c1c" stroke-width="1.1"/>
<circle cx="654.10" cy="149.25" r="4.45" fill="#3a78a9" stroke="#1c1c1c" stroke-width="1.1"/>
<circle cx="674.23" cy="126.45" r="4.45" fill="#3a78a9" stroke="#1c1c1c" stroke-width="1.1"/>
<circle cx="694.35" cy="127.28" r="4.45" fill="#3a78a9" stroke="#1c1c1c" stroke-width="1.1"/>
<circle cx="714.48" cy="146.58" r="4.45" fill="#3a78a9" stroke="#1c1c1c" stroke-width="1.1"/>
<line x1="714.48" y1="142.28" x2="714.48" y2="150.88" stroke="#333" stroke-width="0.8" />
<line x1="712.18" y1="142.28" x2="716.77" y2="142.28" stroke="#1c1c1c" stroke-width="1.0" />
<line x1="712.18" y1="150.88" x2="716.77" y2="150.88" stroke="#1c1c1c" stroke-width="1.0" />
<circle cx="734.60" cy="160.55" r="4.45" fill="#3a78a9" stroke="#1c1c1c" stroke-width="1.1"/>
<line x1="734.60" y1="157.55" x2="734.60" y2="163.55" stroke="#333" stroke-width="0.8" />
<line x1="732.30" y1="157.55" x2="736.90" y2="157.55" stroke="#1c1c1c" stroke-width="1.0" />
<line x1="732.30" y1="163.55" x2="736.90" y2="163.55" stroke="#1c1c1c" stroke-width="1.0" />
<line x1="499.15" y1="211.90" x2="507.18" y2="211.90" stroke="#f9a052" stroke-width="1.25" />
<line x1="519.27" y1="211.90" x2="527.30" y2="211.90" stroke="#f9a052" stroke-width="1.25" />
<line x1="539.40" y1="211.90" x2="547.43" y2="211.90" stroke="#f9a052" stroke-width="1.25" />
<line x1="559.52" y1="211.90" x2="567.55" y2="211.90" stroke="#f9a052" stroke-width="1.25" />
<line x1="579.61" y1="211.16" x2="587.72" y2="210.17" stroke="#f9a052" stroke-width="1.25" />
<line x1="599.48" y1="207.56" x2="608.10" y2="204.74" stroke="#f9a052" stroke-width="1.25" />
<line x1="618.44" y1="198.92" x2="629.38" y2="189.55" stroke="#f9a052" stroke-width="1.25" />
<line x1="637.44" y1="180.65" x2="650.63" y2="161.81" stroke="#f9a052" stroke-width="1.25" />
<line x1="657.81" y1="152.08" x2="670.51" y2="135.75" stroke="#f9a052" stroke-width="1.25" />
<line x1="679.90" y1="128.89" x2="688.67" y2="125.66" stroke="#f9a052" stroke-width="1.25" />
<line x1="699.13" y1="127.29" x2="709.69" y2="135.48" stroke="#f9a052" stroke-width="1.25" />
<line x1="719.61" y1="142.39" x2="729.46" y2="148.52" stroke="#f9a052" stroke-width="1.25" />
<line x1="654.10" y1="152.35" x2="654.10" y2="161.35" stroke="#6b6b6b" stroke-width="1.4" />
<line x1="651.50" y1="152.35" x2="656.70" y2="152.35" stroke="#222" stroke-width="1.2" />
<line x1="651.50" y1="161.35" x2="656.70" y2="161.35" stroke="#222" stroke-width="1.2" />
<line x1="674.23" y1="124.77" x2="674.23" y2="137.17" stroke="#6b6b6b" stroke-width="1.4" />
<line x1="671.62" y1="124.77" x2="676.83" y2="124.77" stroke="#222" stroke-width="1.2" />
<line x1="671.62" y1="137.17" x2="676.83" y2="137.17" stroke="#222" stroke-width="1.2" />
<line x1="694.35" y1="117.58" x2="694.35" y2="129.58" stroke="#6b6b6b" stroke-width="1.4" />
<line x1="691.75" y1="117.58" x2="696.95" y2="117.58" stroke="#222" stroke-width="1.2" />
<line x1="691.75" y1="129.58" x2="696.95" y2="129.58" stroke="#222" stroke-width="1.2" />
<circle cx="493.10" cy="211.90" r="4.45" fill="#f7963b" stroke="#1c1c1c" stroke-width="1.1"/>
<line x1="493.10" y1="208.05" x2="493.10" y2="215.75" stroke="#1c1c1c" stroke-width="0.9" />
<line x1="490.80" y1="211.90" x2="495.40" y2="211.90" stroke="#1c1c1c" stroke-width="1.3" />
<circle cx="513.23" cy="211.90" r="4.45" fill="#f7963b" stroke="#1c1c1c" stroke-width="1.1"/>
<line x1="513.23" y1="208.05" x2="513.23" y2="215.75" stroke="#1c1c1c" stroke-width="0.9" />
<line x1="510.93" y1="211.90" x2="515.52" y2="211.90" stroke="#1c1c1c" stroke-width="1.3" />
<circle cx="533.35" cy="211.90" r="4.45" fill="#f7963b" stroke="#1c1c1c" stroke-width="1.1"/>
<line x1="533.35" y1="208.05" x2="533.35" y2="215.75" stroke="#1c1c1c" stroke-width="0.9" />
<line x1="531.05" y1="211.90" x2="535.65" y2="211.90" stroke="#1c1c1c" stroke-width="1.3" />
<circle cx="553.48" cy="211.90" r="4.45" fill="#f7963b" stroke="#1c1c1c" stroke-width="1.1"/>
<line x1="553.48" y1="208.05" x2="553.48" y2="215.75" stroke="#1c1c1c" stroke-width="0.9" />
<line x1="551.18" y1="211.90" x2="555.77" y2="211.90" stroke="#1c1c1c" stroke-width="1.3" />
<circle cx="573.60" cy="211.90" r="4.45" fill="#f7963b" stroke="#1c1c1c" stroke-width="1.1"/>
<line x1="573.60" y1="208.05" x2="573.60" y2="215.75" stroke="#1c1c1c" stroke-width="0.9" />
<line x1="571.30" y1="211.90" x2="575.90" y2="211.90" stroke="#1c1c1c" stroke-width="1.3" />
<circle cx="593.73" cy="209.44" r="4.45" fill="#f7963b" stroke="#1c1c1c" stroke-width="1.1"/>
<line x1="593.73" y1="207.94" x2="593.73" y2="210.94" stroke="#333" stroke-width="0.8" />
<line x1="591.43" y1="207.94" x2="596.02" y2="207.94" stroke="#1c1c1c" stroke-width="1.0" />
<line x1="591.43" y1="210.94" x2="596.02" y2="210.94" stroke="#1c1c1c" stroke-width="1.0" />
<circle cx="613.85" cy="202.86" r="4.45" fill="#f7963b" stroke="#1c1c1c" stroke-width="1.1"/>
<line x1="613.85" y1="200.36" x2="613.85" y2="205.36" stroke="#333" stroke-width="0.8" />
<line x1="611.55" y1="200.36" x2="616.15" y2="200.36" stroke="#1c1c1c" stroke-width="1.0" />
<line x1="611.55" y1="205.36" x2="616.15" y2="205.36" stroke="#1c1c1c" stroke-width="1.0" />
<circle cx="633.98" cy="185.61" r="4.45" fill="#f7963b" stroke="#1c1c1c" stroke-width="1.1"/>
<line x1="633.98" y1="182.41" x2="633.98" y2="188.81" stroke="#333" stroke-width="0.8" />
<line x1="631.68" y1="182.41" x2="636.27" y2="182.41" stroke="#1c1c1c" stroke-width="1.0" />
<line x1="631.68" y1="188.81" x2="636.27" y2="188.81" stroke="#1c1c1c" stroke-width="1.0" />
<circle cx="654.10" cy="156.85" r="4.45" fill="#f7963b" stroke="#1c1c1c" stroke-width="1.1"/>
<circle cx="674.23" cy="130.97" r="4.45" fill="#f7963b" stroke="#1c1c1c" stroke-width="1.1"/>
<circle cx="694.35" cy="123.58" r="4.45" fill="#f7963b" stroke="#1c1c1c" stroke-width="1.1"/>
<circle cx="714.48" cy="139.19" r="4.45" fill="#f7963b" stroke="#1c1c1c" stroke-width="1.1"/>
<line x1="714.48" y1="135.69" x2="714.48" y2="142.69" stroke="#333" stroke-width="0.8" />
<line x1="712.18" y1="135.69" x2="716.77" y2="135.69" stroke="#1c1c1c" stroke-width="1.0" />
<line x1="712.18" y1="142.69" x2="716.77" y2="142.69" stroke="#1c1c1c" stroke-width="1.0" />
<circle cx="734.60" cy="151.72" r="4.45" fill="#f7963b" stroke="#1c1c1c" stroke-width="1.1"/>
<line x1="734.60" y1="149.22" x2="734.60" y2="154.22" stroke="#333" stroke-width="0.8" />
<line x1="732.30" y1="149.22" x2="736.90" y2="149.22" stroke="#1c1c1c" stroke-width="1.0" />
<line x1="732.30" y1="154.22" x2="736.90" y2="154.22" stroke="#1c1c1c" stroke-width="1.0" />
<line x1="481.00" y1="22.40" x2="488.60" y2="22.40" stroke="#6cc8c0" stroke-width="1.3" />
<line x1="500.40" y1="22.40" x2="508.00" y2="22.40" stroke="#6cc8c0" stroke-width="1.3" />
<circle cx="494.5" cy="22.4" r="4.45" fill="#4dbab1" stroke="#1c1c1c" stroke-width="1.0"/>
<text x="510.90" y="26.80" font-size="12" text-anchor="start" font-weight="normal" fill="#111" >P75</text>
<line x1="481.00" y1="36.70" x2="488.60" y2="36.70" stroke="#f7808c" stroke-width="1.3" />
<line x1="500.40" y1="36.70" x2="508.00" y2="36.70" stroke="#f7808c" stroke-width="1.3" />
<circle cx="494.5" cy="36.7" r="4.45" fill="#f6566a" stroke="#1c1c1c" stroke-width="1.0"/>
<text x="510.90" y="41.10" font-size="12" text-anchor="start" font-weight="normal" fill="#111" >P75-TBAClO<tspan font-size="8.5" dy="3">4</tspan></text>
<line x1="481.00" y1="53.90" x2="488.60" y2="53.90" stroke="#80a8cc" stroke-width="1.3" />
<line x1="500.40" y1="53.90" x2="508.00" y2="53.90" stroke="#80a8cc" stroke-width="1.3" />
<circle cx="494.5" cy="53.9" r="4.45" fill="#3a78a9" stroke="#1c1c1c" stroke-width="1.0"/>
<text x="510.90" y="58.30" font-size="12" text-anchor="start" font-weight="normal" fill="#111" >P75-TBAPF<tspan font-size="8.5" dy="3">6</tspan></text>
<line x1="481.00" y1="70.70" x2="488.60" y2="70.70" stroke="#fbbd86" stroke-width="1.3" />
<line x1="500.40" y1="70.70" x2="508.00" y2="70.70" stroke="#fbbd86" stroke-width="1.3" />
<circle cx="494.5" cy="70.7" r="4.45" fill="#f7963b" stroke="#1c1c1c" stroke-width="1.0"/>
<text x="510.90" y="75.10" font-size="12" text-anchor="start" font-weight="normal" fill="#111" >P75-LiClO<tspan font-size="8.5" dy="3">4</tspan></text>
<path d="M475.0,303.4 H756.4 V744.8 H475.0 Z" fill="none" stroke="#2b2b2b" stroke-width="1.1"/>
<line x1="473.00" y1="524.10" x2="758.40" y2="524.10" stroke="#222" stroke-width="1.1" />
<line x1="470.80" y1="505.80" x2="475.00" y2="505.80" stroke="#2b2b2b" stroke-width="1.1" />
<text x="466.80" y="510.80" font-size="14" text-anchor="end" font-weight="normal" fill="#111" >0.00</text>
<line x1="470.80" y1="468.82" x2="475.00" y2="468.82" stroke="#2b2b2b" stroke-width="1.1" />
<text x="466.80" y="473.82" font-size="14" text-anchor="end" font-weight="normal" fill="#111" >0.05</text>
<line x1="470.80" y1="431.85" x2="475.00" y2="431.85" stroke="#2b2b2b" stroke-width="1.1" />
<text x="466.80" y="436.85" font-size="14" text-anchor="end" font-weight="normal" fill="#111" >0.10</text>
<line x1="470.80" y1="394.88" x2="475.00" y2="394.88" stroke="#2b2b2b" stroke-width="1.1" />
<text x="466.80" y="399.88" font-size="14" text-anchor="end" font-weight="normal" fill="#111" >0.15</text>
<line x1="470.80" y1="357.90" x2="475.00" y2="357.90" stroke="#2b2b2b" stroke-width="1.1" />
<text x="466.80" y="362.90" font-size="14" text-anchor="end" font-weight="normal" fill="#111" >0.20</text>
<line x1="470.80" y1="320.93" x2="475.00" y2="320.93" stroke="#2b2b2b" stroke-width="1.1" />
<text x="466.80" y="325.93" font-size="14" text-anchor="end" font-weight="normal" fill="#111" >0.25</text>
<line x1="472.40" y1="487.31" x2="475.00" y2="487.31" stroke="#2b2b2b" stroke-width="1.1" />
<line x1="472.40" y1="450.34" x2="475.00" y2="450.34" stroke="#2b2b2b" stroke-width="1.1" />
<line x1="472.40" y1="413.36" x2="475.00" y2="413.36" stroke="#2b2b2b" stroke-width="1.1" />
<line x1="472.40" y1="376.39" x2="475.00" y2="376.39" stroke="#2b2b2b" stroke-width="1.1" />
<line x1="472.40" y1="339.41" x2="475.00" y2="339.41" stroke="#2b2b2b" stroke-width="1.1" />
<line x1="470.80" y1="528.50" x2="475.00" y2="528.50" stroke="#2b2b2b" stroke-width="1.1" />
<text x="466.80" y="533.50" font-size="14" text-anchor="end" font-weight="normal" fill="#111" >10</text>
<line x1="470.80" y1="656.00" x2="475.00" y2="656.00" stroke="#2b2b2b" stroke-width="1.1" />
<text x="466.80" y="661.00" font-size="14" text-anchor="end" font-weight="normal" fill="#111" >1</text>
<line x1="472.40" y1="617.62" x2="475.00" y2="617.62" stroke="#2b2b2b" stroke-width="1.1" />
<line x1="472.40" y1="595.17" x2="475.00" y2="595.17" stroke="#2b2b2b" stroke-width="1.1" />
<line x1="472.40" y1="579.24" x2="475.00" y2="579.24" stroke="#2b2b2b" stroke-width="1.1" />
<line x1="472.40" y1="566.88" x2="475.00" y2="566.88" stroke="#2b2b2b" stroke-width="1.1" />
<line x1="472.40" y1="556.79" x2="475.00" y2="556.79" stroke="#2b2b2b" stroke-width="1.1" />
<line x1="472.40" y1="548.25" x2="475.00" y2="548.25" stroke="#2b2b2b" stroke-width="1.1" />
<line x1="472.40" y1="540.86" x2="475.00" y2="540.86" stroke="#2b2b2b" stroke-width="1.1" />
<line x1="472.40" y1="534.33" x2="475.00" y2="534.33" stroke="#2b2b2b" stroke-width="1.1" />
<line x1="472.40" y1="722.67" x2="475.00" y2="722.67" stroke="#2b2b2b" stroke-width="1.1" />
<line x1="472.40" y1="706.74" x2="475.00" y2="706.74" stroke="#2b2b2b" stroke-width="1.1" />
<line x1="472.40" y1="694.38" x2="475.00" y2="694.38" stroke="#2b2b2b" stroke-width="1.1" />
<line x1="472.40" y1="684.29" x2="475.00" y2="684.29" stroke="#2b2b2b" stroke-width="1.1" />
<line x1="472.40" y1="675.75" x2="475.00" y2="675.75" stroke="#2b2b2b" stroke-width="1.1" />
<line x1="472.40" y1="668.36" x2="475.00" y2="668.36" stroke="#2b2b2b" stroke-width="1.1" />
<line x1="472.40" y1="661.83" x2="475.00" y2="661.83" stroke="#2b2b2b" stroke-width="1.1" />
<line x1="756.40" y1="477.20" x2="760.60" y2="477.20" stroke="#2b2b2b" stroke-width="1.1" />
<text x="764.20" y="482.20" font-size="14" text-anchor="start" font-weight="normal" fill="#111" >10</text>
<line x1="756.40" y1="359.70" x2="760.60" y2="359.70" stroke="#2b2b2b" stroke-width="1.1" />
<text x="764.20" y="364.70" font-size="14" text-anchor="start" font-weight="normal" fill="#111" >100</text>
<line x1="756.40" y1="512.57" x2="759.00" y2="512.57" stroke="#2b2b2b" stroke-width="1.1" />
<line x1="756.40" y1="503.27" x2="759.00" y2="503.27" stroke="#2b2b2b" stroke-width="1.1" />
<line x1="756.40" y1="495.40" x2="759.00" y2="495.40" stroke="#2b2b2b" stroke-width="1.1" />
<line x1="756.40" y1="488.59" x2="759.00" y2="488.59" stroke="#2b2b2b" stroke-width="1.1" />
<line x1="756.40" y1="482.58" x2="759.00" y2="482.58" stroke="#2b2b2b" stroke-width="1.1" />
<line x1="756.40" y1="441.83" x2="759.00" y2="441.83" stroke="#2b2b2b" stroke-width="1.1" />
<line x1="756.40" y1="421.14" x2="759.00" y2="421.14" stroke="#2b2b2b" stroke-width="1.1" />
<line x1="756.40" y1="406.46" x2="759.00" y2="406.46" stroke="#2b2b2b" stroke-width="1.1" />
<line x1="756.40" y1="395.07" x2="759.00" y2="395.07" stroke="#2b2b2b" stroke-width="1.1" />
<line x1="756.40" y1="385.77" x2="759.00" y2="385.77" stroke="#2b2b2b" stroke-width="1.1" />
<line x1="756.40" y1="377.90" x2="759.00" y2="377.90" stroke="#2b2b2b" stroke-width="1.1" />
<line x1="756.40" y1="371.09" x2="759.00" y2="371.09" stroke="#2b2b2b" stroke-width="1.1" />
<line x1="756.40" y1="365.08" x2="759.00" y2="365.08" stroke="#2b2b2b" stroke-width="1.1" />
<line x1="756.40" y1="324.33" x2="759.00" y2="324.33" stroke="#2b2b2b" stroke-width="1.1" />
<line x1="756.40" y1="303.64" x2="759.00" y2="303.64" stroke="#2b2b2b" stroke-width="1.1" />
<line x1="756.40" y1="527.90" x2="760.60" y2="527.90" stroke="#2b2b2b" stroke-width="1.1" />
<text x="764.20" y="532.90" font-size="14" text-anchor="start" font-weight="normal" fill="#111" >100</text>
<line x1="756.40" y1="636.20" x2="760.60" y2="636.20" stroke="#2b2b2b" stroke-width="1.1" />
<text x="764.20" y="641.20" font-size="14" text-anchor="start" font-weight="normal" fill="#111" >10</text>
<line x1="756.40" y1="744.50" x2="760.60" y2="744.50" stroke="#2b2b2b" stroke-width="1.1" />
<text x="764.20" y="749.50" font-size="14" text-anchor="start" font-weight="normal" fill="#111" >1</text>
<line x1="756.40" y1="711.90" x2="759.00" y2="711.90" stroke="#2b2b2b" stroke-width="1.1" />
<line x1="756.40" y1="692.83" x2="759.00" y2="692.83" stroke="#2b2b2b" stroke-width="1.1" />
<line x1="756.40" y1="679.30" x2="759.00" y2="679.30" stroke="#2b2b2b" stroke-width="1.1" />
<line x1="756.40" y1="668.80" x2="759.00" y2="668.80" stroke="#2b2b2b" stroke-width="1.1" />
<line x1="756.40" y1="660.23" x2="759.00" y2="660.23" stroke="#2b2b2b" stroke-width="1.1" />
<line x1="756.40" y1="652.98" x2="759.00" y2="652.98" stroke="#2b2b2b" stroke-width="1.1" />
<line x1="756.40" y1="646.70" x2="759.00" y2="646.70" stroke="#2b2b2b" stroke-width="1.1" />
<line x1="756.40" y1="641.16" x2="759.00" y2="641.16" stroke="#2b2b2b" stroke-width="1.1" />
<line x1="756.40" y1="603.60" x2="759.00" y2="603.60" stroke="#2b2b2b" stroke-width="1.1" />
<line x1="756.40" y1="584.53" x2="759.00" y2="584.53" stroke="#2b2b2b" stroke-width="1.1" />
<line x1="756.40" y1="571.00" x2="759.00" y2="571.00" stroke="#2b2b2b" stroke-width="1.1" />
<line x1="756.40" y1="560.50" x2="759.00" y2="560.50" stroke="#2b2b2b" stroke-width="1.1" />
<line x1="756.40" y1="551.93" x2="759.00" y2="551.93" stroke="#2b2b2b" stroke-width="1.1" />
<line x1="756.40" y1="544.68" x2="759.00" y2="544.68" stroke="#2b2b2b" stroke-width="1.1" />
<line x1="756.40" y1="538.40" x2="759.00" y2="538.40" stroke="#2b2b2b" stroke-width="1.1" />
<line x1="756.40" y1="532.86" x2="759.00" y2="532.86" stroke="#2b2b2b" stroke-width="1.1" />
<line x1="510.20" y1="744.80" x2="510.20" y2="748.80" stroke="#2b2b2b" stroke-width="1.1" />
<text transform="translate(507.50,767.50) rotate(-45)" text-anchor="middle" font-size="14.5" fill="#111">P75</text>
<line x1="580.45" y1="744.80" x2="580.45" y2="748.80" stroke="#2b2b2b" stroke-width="1.1" />
<text transform="translate(575.00,779.80) rotate(-45)" text-anchor="middle" font-size="14.5" fill="#111">P75-TBAClO<tspan font-size="10" dy="3">4</tspan></text>
<line x1="650.70" y1="744.80" x2="650.70" y2="748.80" stroke="#2b2b2b" stroke-width="1.1" />
<text transform="translate(645.00,781.50) rotate(-45)" text-anchor="middle" font-size="14.5" fill="#111">P75-TBAPF<tspan font-size="10" dy="3">6</tspan></text>
<line x1="720.95" y1="744.80" x2="720.95" y2="748.80" stroke="#2b2b2b" stroke-width="1.1" />
<text transform="translate(716.50,778.50) rotate(-45)" text-anchor="middle" font-size="14.5" fill="#111">P75-LiClO<tspan font-size="10" dy="3">4</tspan></text>
<text transform="translate(432.00,400.50) rotate(-90) scale(1.0000,1)" text-anchor="middle" font-size="16.8" font-weight="bold" fill="#111"><tspan font-weight="normal">µ</tspan>C* / F/cmVs</text>
<text transform="translate(439.00,626.70) rotate(-90) scale(1.0000,1)" text-anchor="middle" font-size="16.8" font-weight="bold" fill="#111"><tspan font-weight="normal">µ</tspan> x 10<tspan font-size="11" dy="-6.5">-3</tspan><tspan dy="6.5"> / cm</tspan><tspan font-size="11" dy="-6.5">2</tspan><tspan dy="6.5">/Vs</tspan></text>
<text transform="translate(795.50,413.40) rotate(-90) scale(1.0600,1)" text-anchor="middle" font-size="16.8" font-weight="bold" fill="#111"><tspan font-weight="normal">τ</tspan><tspan font-size="11.5" dy="3.5">ON</tspan><tspan dy="-3.5"> / ms</tspan></text>
<text transform="translate(799.00,634.40) rotate(-90) scale(1.0480,1)" text-anchor="middle" font-size="16.8" font-weight="bold" fill="#111">C* / F/cm<tspan font-size="11" dy="-6.5">3</tspan></text>
<path d="M510.20,326.60 L517.00,338.90 L503.40,338.90 Z" stroke="#1c1c1c" stroke-width="1.2" fill="#4dbab1" stroke-linejoin="miter" />
<path d="M580.45,485.00 L587.25,496.90 L573.65,496.90 Z" stroke="#1c1c1c" stroke-width="1.2" fill="#f6566a" stroke-linejoin="miter" />
<path d="M650.70,484.40 L657.50,496.30 L643.90,496.30 Z" stroke="#1c1c1c" stroke-width="1.2" fill="#3a78a9" stroke-linejoin="miter" />
<path d="M720.95,495.30 L727.75,507.50 L714.15,507.50 Z" stroke="#1c1c1c" stroke-width="1.2" fill="#f7963b" stroke-linejoin="miter" />
<path d="M510.20,488.40 L511.95,492.60 L516.48,492.96 L513.02,495.92 L514.08,500.34 L510.20,497.97 L506.32,500.34 L507.38,495.92 L503.92,492.96 L508.45,492.60 Z" stroke="#1c1c1c" stroke-width="1.3" fill="#2d6b65" stroke-linejoin="miter" />
<line x1="510.20" y1="492.00" x2="510.20" y2="498.00" stroke="#111" stroke-width="1.2" />
<line x1="507.70" y1="493.70" x2="512.70" y2="493.70" stroke="#111" stroke-width="1.2" />
<line x1="507.70" y1="496.80" x2="512.70" y2="496.80" stroke="#111" stroke-width="1.2" />
<line x1="580.45" y1="317.90" x2="580.45" y2="338.20" stroke="#1c1c1c" stroke-width="1.1" />
<line x1="577.85" y1="317.90" x2="583.05" y2="317.90" stroke="#1c1c1c" stroke-width="1.1" />
<line x1="577.85" y1="338.20" x2="583.05" y2="338.20" stroke="#1c1c1c" stroke-width="1.1" />
<path d="M580.45,321.40 L582.20,325.60 L586.73,325.96 L583.27,328.92 L584.33,333.34 L580.45,330.97 L576.57,333.34 L577.63,328.92 L574.17,325.96 L578.70,325.60 Z" stroke="#1c1c1c" stroke-width="1.3" fill="#f6566a" stroke-linejoin="miter" />
<line x1="577.85" y1="317.90" x2="583.05" y2="317.90" stroke="#1c1c1c" stroke-width="1.1" />
<line x1="577.85" y1="338.20" x2="583.05" y2="338.20" stroke="#1c1c1c" stroke-width="1.1" />
<line x1="650.70" y1="420.00" x2="650.70" y2="433.40" stroke="#1c1c1c" stroke-width="1.1" />
<line x1="648.10" y1="420.00" x2="653.30" y2="420.00" stroke="#1c1c1c" stroke-width="1.1" />
<line x1="648.10" y1="433.40" x2="653.30" y2="433.40" stroke="#1c1c1c" stroke-width="1.1" />
<path d="M650.70,420.60 L652.45,424.80 L656.98,425.16 L653.52,428.12 L654.58,432.54 L650.70,430.17 L646.82,432.54 L647.88,428.12 L644.42,425.16 L648.95,424.80 Z" stroke="#1c1c1c" stroke-width="1.3" fill="#3a78a9" stroke-linejoin="miter" />
<line x1="648.10" y1="420.00" x2="653.30" y2="420.00" stroke="#1c1c1c" stroke-width="1.1" />
<line x1="648.10" y1="433.40" x2="653.30" y2="433.40" stroke="#1c1c1c" stroke-width="1.1" />
<line x1="720.95" y1="431.30" x2="720.95" y2="442.80" stroke="#1c1c1c" stroke-width="1.1" />
<line x1="718.35" y1="431.30" x2="723.55" y2="431.30" stroke="#1c1c1c" stroke-width="1.1" />
<line x1="718.35" y1="442.80" x2="723.55" y2="442.80" stroke="#1c1c1c" stroke-width="1.1" />
<path d="M720.95,430.90 L722.70,435.10 L727.23,435.46 L723.77,438.42 L724.83,442.84 L720.95,440.47 L717.07,442.84 L718.13,438.42 L714.67,435.46 L719.20,435.10 Z" stroke="#1c1c1c" stroke-width="1.3" fill="#f7963b" stroke-linejoin="miter" />
<line x1="718.35" y1="431.30" x2="723.55" y2="431.30" stroke="#1c1c1c" stroke-width="1.1" />
<line x1="718.35" y1="442.80" x2="723.55" y2="442.80" stroke="#1c1c1c" stroke-width="1.1" />
<rect x="504.90" y="716.30" width="10.6" height="10.6" fill="#4dbab1" stroke="#1c1c1c" stroke-width="1.2"/>
<line x1="510.20" y1="716.30" x2="510.20" y2="727.30" stroke="#1c1c1c" stroke-width="1.1" />
<line x1="507.90" y1="716.30" x2="512.50" y2="716.30" stroke="#1c1c1c" stroke-width="1.1" />
<line x1="507.90" y1="727.30" x2="512.50" y2="727.30" stroke="#1c1c1c" stroke-width="1.1" />
<rect x="575.15" y="553.00" width="10.6" height="10.6" fill="#f6566a" stroke="#1c1c1c" stroke-width="1.2"/>
<line x1="580.45" y1="555.50" x2="580.45" y2="561.80" stroke="#1c1c1c" stroke-width="1.1" />
<line x1="578.15" y1="555.50" x2="582.75" y2="555.50" stroke="#1c1c1c" stroke-width="1.1" />
<line x1="578.15" y1="561.80" x2="582.75" y2="561.80" stroke="#1c1c1c" stroke-width="1.1" />
<rect x="645.40" y="619.30" width="10.6" height="10.6" fill="#3a78a9" stroke="#1c1c1c" stroke-width="1.2"/>
<line x1="650.70" y1="619.40" x2="650.70" y2="629.80" stroke="#1c1c1c" stroke-width="1.1" />
<line x1="648.40" y1="619.40" x2="653.00" y2="619.40" stroke="#1c1c1c" stroke-width="1.1" />
<line x1="648.40" y1="629.80" x2="653.00" y2="629.80" stroke="#1c1c1c" stroke-width="1.1" />
<rect x="715.65" y="614.70" width="10.6" height="10.6" fill="#f7963b" stroke="#1c1c1c" stroke-width="1.2"/>
<line x1="720.95" y1="614.60" x2="720.95" y2="625.40" stroke="#1c1c1c" stroke-width="1.1" />
<line x1="718.65" y1="614.60" x2="723.25" y2="614.60" stroke="#1c1c1c" stroke-width="1.1" />
<line x1="718.65" y1="625.40" x2="723.25" y2="625.40" stroke="#1c1c1c" stroke-width="1.1" />
<circle cx="510.20" cy="567.00" r="6.0" fill="#4dbab1" stroke="#1c1c1c" stroke-width="1.2"/>
<line x1="510.20" y1="564.70" x2="510.20" y2="569.30" stroke="#1c1c1c" stroke-width="1.1" />
<line x1="507.90" y1="564.70" x2="512.50" y2="564.70" stroke="#1c1c1c" stroke-width="1.1" />
<line x1="507.90" y1="569.30" x2="512.50" y2="569.30" stroke="#1c1c1c" stroke-width="1.1" />
<circle cx="580.45" cy="570.60" r="6.0" fill="#f6566a" stroke="#1c1c1c" stroke-width="1.2"/>
<line x1="580.45" y1="567.30" x2="580.45" y2="574.50" stroke="#1c1c1c" stroke-width="1.1" />
<line x1="578.15" y1="567.30" x2="582.75" y2="567.30" stroke="#1c1c1c" stroke-width="1.1" />
<line x1="578.15" y1="574.50" x2="582.75" y2="574.50" stroke="#1c1c1c" stroke-width="1.1" />
<circle cx="650.70" cy="552.50" r="6.0" fill="#3a78a9" stroke="#1c1c1c" stroke-width="1.2"/>
<line x1="650.70" y1="546.50" x2="650.70" y2="559.00" stroke="#1c1c1c" stroke-width="1.1" />
<line x1="648.40" y1="546.50" x2="653.00" y2="546.50" stroke="#1c1c1c" stroke-width="1.1" />
<line x1="648.40" y1="559.00" x2="653.00" y2="559.00" stroke="#1c1c1c" stroke-width="1.1" />
<circle cx="720.95" cy="563.00" r="6.0" fill="#f7963b" stroke="#1c1c1c" stroke-width="1.2"/>
<line x1="720.95" y1="557.00" x2="720.95" y2="569.10" stroke="#1c1c1c" stroke-width="1.1" />
<line x1="718.65" y1="557.00" x2="723.25" y2="557.00" stroke="#1c1c1c" stroke-width="1.1" />
<line x1="718.65" y1="569.10" x2="723.25" y2="569.10" stroke="#1c1c1c" stroke-width="1.1" />
<path d="M709.30,312.70 L710.94,316.64 L715.20,316.98 L711.95,319.76 L712.94,323.92 L709.30,321.69 L705.66,323.92 L706.65,319.76 L703.40,316.98 L707.66,316.64 Z" stroke="#1c1c1c" stroke-width="0.6" fill="#000" stroke-linejoin="miter" />
<text x="719.6" y="324.0" font-size="13.5" fill="#000"><tspan>µ</tspan><tspan font-weight="bold">C*</tspan></text>
<path d="M709.50,331.20 L715.75,343.00 L703.25,343.00 Z" stroke="#000" stroke-width="0.5" fill="#000" stroke-linejoin="miter" />
<text x="719.8" y="341.2" font-size="13" fill="#000">τ<tspan font-size="9.8" font-weight="bold" dy="3.4">ON</tspan></text>
<rect x="704.8" y="704.0" width="9.0" height="9.0" fill="#000"/>
<text x="719.8" y="713.0" font-size="12.5" fill="#000">µ</text>
<circle cx="709.3" cy="724.6" r="6.0" fill="#000"/>
<text x="719.4" y="728.8" font-size="13.5" font-weight="bold" fill="#000">C*</text>
</svg></body></html>
